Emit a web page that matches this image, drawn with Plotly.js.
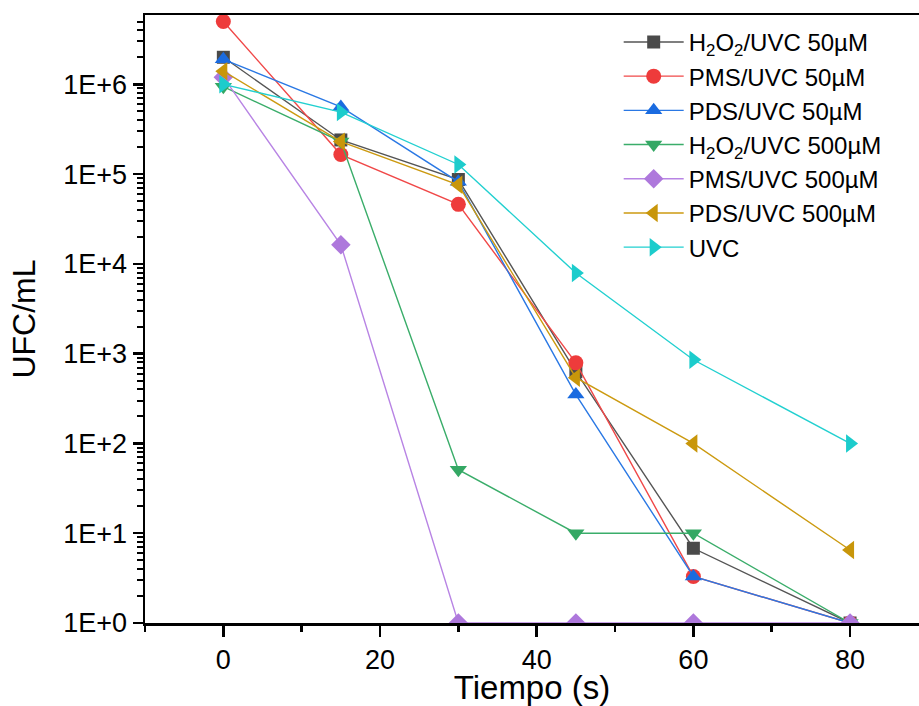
<!DOCTYPE html>
<html>
<head>
<meta charset="utf-8">
<script src="https://cdn.plot.ly/plotly-3.0.1.min.js"></script>
<style>html,body{margin:0;padding:0;background:#fff;}#chart{width:919px;height:706px;}</style>
</head>
<body>
<div id="chart"></div>
<script>
var times = [0, 15, 30, 45, 60, 80];
var seriesNames = [
  "H<sub>2</sub>O<sub>2</sub>/UVC 50µM",
  "PMS/UVC 50µM",
  "PDS/UVC 50µM",
  "H<sub>2</sub>O<sub>2</sub>/UVC 500µM",
  "PMS/UVC 500µM",
  "PDS/UVC 500µM",
  "UVC"
];
var h2o2_50  = [2.0e6, 2.4e5, 8.7e4, 630, 6.8, 1];
var pms_50   = [5.0e6, 1.65e5, 4.6e4, 790, 3.3, 1];
var pds_50   = [1.9e6, 5.6e5, 8.2e4, 350, 3.3, 1];
var h2o2_500 = [9.4e5, 2.3e5, 51, 10, 10, 1];
var pms_500  = [1.2e6, 1.63e4, 1, 1, 1, 1];
var pds_500  = [1.4e6, 2.3e5, 7.6e4, 540, 100, 6.5];
var uvc      = [1.0e6, 4.9e5, 1.28e5, 7.9e3, 855, 100];

var yTickVals = [1, 10, 100, 1000, 10000, 100000, 1000000];
var yTickText = ["1E+0", "1E+1", "1E+2", "1E+3", "1E+4", "1E+5", "1E+6"];
var xTickVals = [0, 20, 40, 60, 80];
var xMinorTickVals = [-10, 10, 30, 50, 70];
var minorMantissas = [2, 3, 4, 5, 6, 7, 8, 9];

// minor tick positions on the log axis (2..9 times each decade)
var yMinorTickVals = [];
yTickVals.forEach(function (d) {
  minorMantissas.forEach(function (m) { yMinorTickVals.push(m * d); });
});

var allY = [h2o2_50, pms_50, pds_50, h2o2_500, pms_500, pds_500, uvc];
var lineColors   = ["#555555", "#f04848", "#2a78e4", "#3aad6a", "#b884e4", "#cc9a10", "#22d0d0"];
var markerColors = ["#4a4a4a", "#ee3b3b", "#1a6be0", "#34a864", "#ae78dc", "#c8960a", "#1ccccc"];
var symbols = ["square", "circle", "triangle-up", "triangle-down", "diamond", "triangle-left", "triangle-right"];
var sizes = [13, 15, 15, 15, 15, 16, 16];

var FONT = "Arial, 'Liberation Sans', sans-serif";
var XRANGE = [-10, 88.8];
var YRANGE = [0, 6.772];

var traces = allY.map(function (ys, i) {
  return {
    x: times, y: ys, name: seriesNames[i], type: "scatter", mode: "lines+markers",
    line: {color: lineColors[i], width: 1.4},
    marker: {symbol: symbols[i], size: sizes[i], color: markerColors[i], line: {width: 0}}
  };
});

var layout = {
  width: 919, height: 706,
  margin: {l: 145, r: 0, t: 15, b: 83},
  paper_bgcolor: "#fff", plot_bgcolor: "#fff",
  font: {family: FONT, color: "#000", size: 26},
  showlegend: true,
  legend: {x: 0.612, y: 0.992, xanchor: "left", yanchor: "top", bgcolor: "rgba(0,0,0,0)",
           font: {size: 24, family: FONT}, itemwidth: 60, tracegroupgap: 0},
  xaxis: {
    range: XRANGE, tickmode: "array", tickvals: xTickVals, showgrid: false, zeroline: false,
    showline: true, linecolor: "#000", linewidth: 2.5, mirror: true,
    ticks: "outside", ticklen: 11, tickwidth: 2.5, tickcolor: "#000",
    tickfont: {size: 27, family: FONT},
    minor: {tickmode: "array", tickvals: xMinorTickVals, ticks: "outside", ticklen: 6, tickwidth: 2.5, tickcolor: "#000", showgrid: false},
    title: {text: "Tiempo (s)", font: {size: 33, family: FONT}, standoff: 10}
  },
  yaxis: {
    type: "log", range: YRANGE, tickmode: "array", tickvals: yTickVals, ticktext: yTickText,
    showgrid: false, zeroline: false,
    showline: true, linecolor: "#000", linewidth: 2.5,
    ticks: "outside", ticklen: 10, tickwidth: 2.5, tickcolor: "#000",
    tickfont: {size: 27, family: FONT},
    minor: {tickmode: "array", tickvals: yMinorTickVals, ticks: "outside", ticklen: 6, tickwidth: 2, tickcolor: "#000", showgrid: false},
    title: {text: "UFC/mL", font: {size: 32, family: FONT}, standoff: 18}
  }
};

Plotly.newPlot("chart", traces, layout, {displayModeBar: false, staticPlot: true});
</script>
</body>
</html>
